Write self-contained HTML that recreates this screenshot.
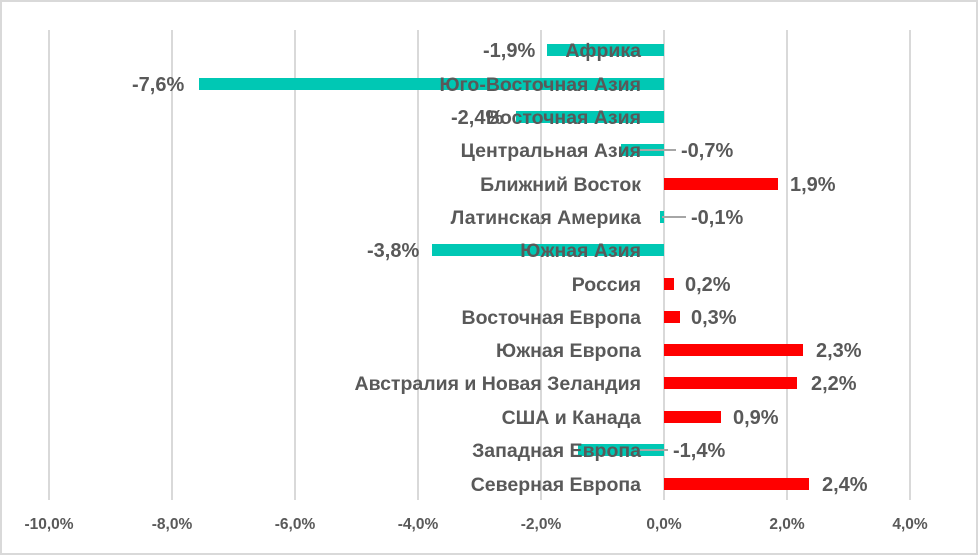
<!DOCTYPE html><html><head><meta charset="utf-8"><style>body{margin:0;background:#fff}svg{display:block}text{font-family:"Liberation Sans",sans-serif;font-weight:bold;fill:#595959}</style></head><body>
<svg width="979" height="556" viewBox="0 0 979 556">
<rect x="1" y="1" width="976" height="553" fill="#fff" stroke="#d9d9d9" stroke-width="2"/>
<g stroke="#d9d9d9" stroke-width="2">
<line x1="49" y1="30" x2="49" y2="500"/><line x1="172" y1="30" x2="172" y2="500"/><line x1="295" y1="30" x2="295" y2="500"/><line x1="418" y1="30" x2="418" y2="500"/><line x1="541" y1="30" x2="541" y2="500"/><line x1="664" y1="30" x2="664" y2="500"/><line x1="787" y1="30" x2="787" y2="500"/><line x1="910" y1="30" x2="910" y2="500"/>
</g>
<g font-size="15.5" text-anchor="middle">
<text x="49" y="529">-10,0%</text><text x="172" y="529">-8,0%</text><text x="295" y="529">-6,0%</text><text x="418" y="529">-4,0%</text><text x="541" y="529">-2,0%</text><text x="664" y="529">0,0%</text><text x="787" y="529">2,0%</text><text x="910" y="529">4,0%</text>
</g>
<g>
<rect x="547" y="44" width="117" height="12" fill="#00c8b4"/>
<rect x="199" y="78" width="465" height="12" fill="#00c8b4"/>
<rect x="516" y="111" width="148" height="12" fill="#00c8b4"/>
<rect x="621" y="144" width="43" height="12" fill="#00c8b4"/>
<rect x="664" y="178" width="114" height="12" fill="#ff0000"/>
<rect x="660" y="211" width="4" height="12" fill="#00c8b4"/>
<rect x="432" y="244" width="232" height="12" fill="#00c8b4"/>
<rect x="664" y="278" width="10" height="12" fill="#ff0000"/>
<rect x="664" y="311" width="16" height="12" fill="#ff0000"/>
<rect x="664" y="344" width="139" height="12" fill="#ff0000"/>
<rect x="664" y="377" width="133" height="12" fill="#ff0000"/>
<rect x="664" y="411" width="57" height="12" fill="#ff0000"/>
<rect x="578" y="444" width="86" height="12" fill="#00c8b4"/>
<rect x="664" y="478" width="145" height="12" fill="#ff0000"/>
</g>
<g stroke="#a6a6a6" stroke-width="2">
<line x1="640" y1="150" x2="676" y2="150"/><line x1="662" y1="217" x2="686" y2="217"/><line x1="640" y1="450" x2="668" y2="450"/>
</g>
<g font-size="19.5" text-anchor="end">
<text x="641" y="57">Африка</text><text x="641" y="91">Юго-Восточная Азия</text><text x="641" y="124">Восточная Азия</text><text x="641" y="157">Центральная Азия</text><text x="641" y="191">Ближний Восток</text><text x="641" y="224">Латинская Америка</text><text x="641" y="257">Южная Азия</text><text x="641" y="291">Россия</text><text x="641" y="324">Восточная Европа</text><text x="641" y="357">Южная Европа</text><text x="641" y="390">Австралия и Новая Зеландия</text><text x="641" y="424">США и Канада</text><text x="641" y="457">Западная Европа</text><text x="641" y="491">Северная Европа</text>
</g>
<g font-size="20">
<text x="483" y="57">-1,9%</text><text x="132" y="91">-7,6%</text><text x="451" y="124">-2,4%</text><text x="681" y="157">-0,7%</text><text x="790" y="191">1,9%</text><text x="691" y="224">-0,1%</text><text x="367" y="257">-3,8%</text><text x="685" y="291">0,2%</text><text x="691" y="324">0,3%</text><text x="816" y="357">2,3%</text><text x="811" y="390">2,2%</text><text x="733" y="424">0,9%</text><text x="673" y="457">-1,4%</text><text x="822" y="491">2,4%</text>
</g>
</svg></body></html>
